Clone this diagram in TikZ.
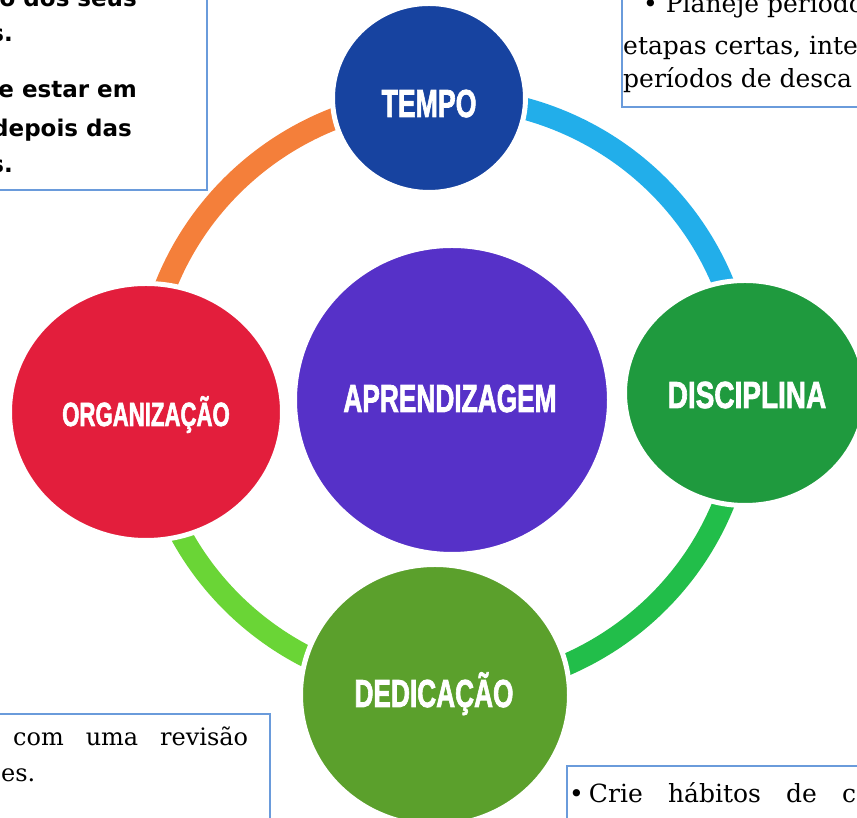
\documentclass[tikz,border=0pt]{standalone}
\usepackage{fontspec}
\setmainfont{DejaVu Serif}
\newfontfamily\capsfont{Liberation Sans}[BoldFeatures={FakeBold=2.2}]
\newfontfamily\boxsans{DejaVu Sans}
\usetikzlibrary{shapes.geometric,calc}
\definecolor{ctempo}{HTML}{1743A0}
\definecolor{corg}{HTML}{E31E3C}
\definecolor{capr}{HTML}{5631C8}
\definecolor{cdisc}{HTML}{1F9A3E}
\definecolor{cded}{HTML}{5BA02C}
\definecolor{corange}{HTML}{F47F3A}
\definecolor{cblue}{HTML}{22AEEA}
\definecolor{cgreen}{HTML}{22BE4A}
\definecolor{clgreen}{HTML}{6AD536}
\definecolor{cbox}{HTML}{6A9BDB}
\newcommand\circlbl[3]{\scalebox{#1}[1]{\fontsize{#2}{#2}\selectfont\capsfont\bfseries #3}}
\tikzset{
  ringarc/.style={line width=22pt},
  bubble/.style={ellipse, draw=white, line width=5pt, inner sep=0pt, outer sep=0pt},
  lbl/.style={text=white, anchor=base, inner sep=0pt},
  boxline/.style={draw=cbox, line width=1.6pt},
  sanstxt/.style={anchor=base east, inner sep=0pt, font=\fontsize{23}{23}\selectfont\boxsans\bfseries},
  seriftxt/.style={anchor=base west, inner sep=0pt, font=\fontsize{25}{25}\selectfont},
}
\begin{document}
\begin{tikzpicture}[x=1pt,y=1pt]
\useasboundingbox (0,0) rectangle (857,818);
\clip (0,0) rectangle (857,818);
% ring
\coordinate (ringc) at (445,424);
\draw[ringarc, cblue] ($(ringc)+(0:300pt and 296pt)$) arc[start angle=0, end angle=93, x radius=300pt, y radius=296pt];
\draw[ringarc, corange] ($(ringc)+(93:300pt and 296pt)$) arc[start angle=93, end angle=183, x radius=300pt, y radius=296pt];
\draw[ringarc, clgreen] ($(ringc)+(183:300pt and 296pt)$) arc[start angle=183, end angle=268, x radius=300pt, y radius=296pt];
\draw[ringarc, cgreen] ($(ringc)+(268:300pt and 296pt)$) arc[start angle=268, end angle=360, x radius=300pt, y radius=296pt];
% bubbles
\node[bubble, fill=ctempo, minimum width=193pt, minimum height=189pt] (tempo) at (429,720) {};
\node[bubble, fill=capr, minimum width=315pt, minimum height=309pt] (apr) at (452,418) {};
\node[bubble, fill=corg, minimum width=273pt, minimum height=257pt] (org) at (146,406) {};
\node[bubble, fill=cdisc, minimum width=241pt, minimum height=225pt] (disc) at (745,425) {};
\node[bubble, fill=cded, minimum width=269pt, minimum height=261pt] (ded) at (435,123) {};
% labels
\node[lbl] (ltempo) at (429,701) {\circlbl{0.685}{39}{TEMPO}};
\node[lbl] (lapr) at (450,406) {\circlbl{0.674}{39}{APRENDIZAGEM}};
\node[lbl] (lorg) at (146,392) {\circlbl{0.662}{33.5}{ORGANIZAÇÃO}};
\node[lbl] (ldisc) at (747,410) {\circlbl{0.742}{37.7}{DISCIPLINA}};
\node[lbl] (lded) at (434,111) {\circlbl{0.673}{39}{DEDICAÇÃO}};
% text boxes
\draw[boxline] (-10,628) rectangle (207,830);
\draw[boxline] (622,711) rectangle (870,830);
\draw[boxline] (-10,-10) rectangle (270,104);
\draw[boxline] (567,-10) rectangle (870,52);
% top-left text
\node[sanstxt] (tl1) at (137,811) {ão dos seus};
\node[sanstxt] (tl2) at (13,776) {s.};
\node[sanstxt] (tl3) at (137,720) {e estar em};
\node[sanstxt] (tl4) at (132,681) {depois das};
\node[sanstxt] (tl5) at (13,645) {s.};
% top-right text
\node[seriftxt] (tr1) at (643,805) {• Planeje períodos};
\node[seriftxt] (tr2) at (623,763) {etapas certas, inte};
\node[seriftxt] (tr3) at (623,730) {períodos de desca};
% bottom-left text
\node[seriftxt, font=\fontsize{24}{24}\selectfont] (bl1) at (13,72) {\makebox[235pt][s]{com uma revisão}};
\node[seriftxt, font=\fontsize{24}{24}\selectfont] (bl2) at (1,36) {es.};
% bottom-right text
\node[seriftxt] (br1) at (569,15) {\makebox[287pt][s]{•\kern5pt Crie hábitos de c}};
\end{tikzpicture}
\end{document}
